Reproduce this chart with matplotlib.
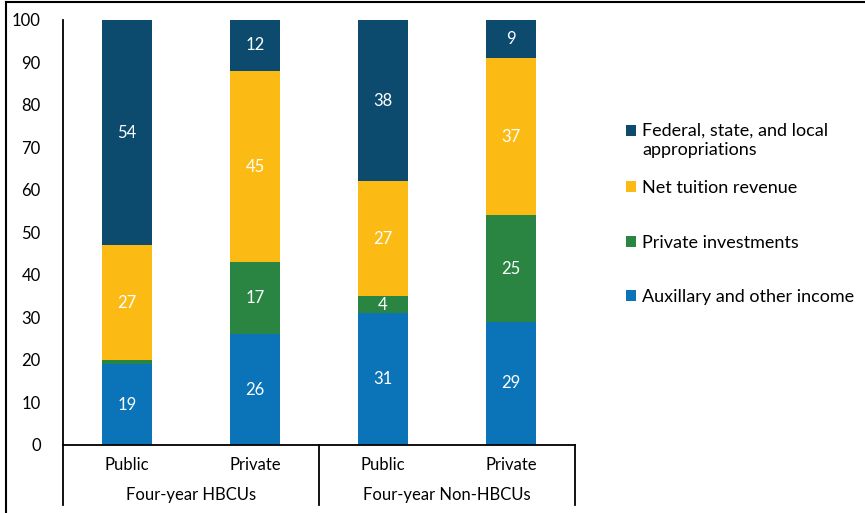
import matplotlib.pyplot as plt
import numpy as np
from matplotlib.lines import Line2D
from matplotlib.patches import Rectangle
from matplotlib.legend_handler import HandlerPatch

plt.rcParams['font.family'] = ['Lato', 'DejaVu Sans']

# data
types = ['Public', 'Private', 'Public', 'Private']
groups = ['Four-year HBCUs', 'Four-year Non-HBCUs']
series = ['Auxillary and other income', 'Private investments',
          'Net tuition revenue', 'Federal, state, and local\nappropriations']
auxiliary = [19, 26, 31, 29]
investments = [1, 17, 4, 25]
tuition = [27, 45, 27, 37]
appropriations = [54, 12, 38, 9]
colors = ['#0B73B7', '#2B8542', '#FCBB14', '#0C4A6E']

fig = plt.figure(figsize=(8.65, 5.13), dpi=100)
ax = fig.add_axes([0.0728, 0.1326, 0.5919, 0.8285])

x = np.arange(len(types))
bottom = np.zeros(len(types))
handles = []
for vals, name, c in zip([auxiliary, investments, tuition, appropriations], series, colors):
    bars = ax.bar(x, vals, 0.39, bottom=bottom, color=c, label=name, zorder=2)
    labels = [str(v) if v >= 3 else '' for v in vals]
    ax.bar_label(bars, labels=labels, label_type='center', color='white', fontsize=12)
    bottom += np.array(vals)
    handles.append(bars[0])

ax.set_xlim(-0.5, 3.5)
ax.set_ylim(0, 100)
ax.set_yticks(range(0, 101, 10))
ax.tick_params(axis='y', length=0, pad=16, labelsize=12)
ax.set_xticks([])
for s in ['top', 'right']:
    ax.spines[s].set_visible(False)
ax.spines['left'].set_linewidth(1.3)
ax.spines['bottom'].set_linewidth(1.3)

# two-level category axis
tr = ax.get_xaxis_transform()
ybot = -0.141
for xv in [-0.5, 1.5, 3.5]:
    ax.plot([xv, xv], [0, ybot], color='black', lw=1.3, transform=tr, clip_on=False)
for xi, t in zip(x, types):
    ax.text(xi, -0.047, t, transform=tr, ha='center', va='center', fontsize=12)
for gi, g in enumerate(groups):
    ax.text(gi * 2 + 0.5, -0.118, g, transform=tr, ha='center', va='center', fontsize=12)


def raised_square(legend, orig_handle, xdescent, ydescent, width, height, fontsize):
    # put the square next to the first line of a two-line label
    return Rectangle((-xdescent, -ydescent + 6.8), width, height)


# legend: two-line entry on its own, the rest below it
leg_kw = dict(frameon=False, fontsize=13, handlelength=0.55, handleheight=0.55,
              handletextpad=0.35, bbox_transform=fig.transFigure, loc='upper left')
leg1 = ax.legend([handles[3]], [series[3]], bbox_to_anchor=(0.705, 1 - 106 / 513),
                 handler_map={handles[3]: HandlerPatch(patch_func=raised_square)}, **leg_kw)
for t in leg1.get_texts():
    t.set_linespacing(1.25)
ax.add_artist(leg1)
ax.legend(handles[2::-1], series[2::-1], bbox_to_anchor=(0.705, 1 - 164 / 513),
          labelspacing=2.12, **leg_kw)

# outer frame
fig.add_artist(Line2D([6 / 865, 6 / 865], [0, 1 - 2 / 513], color='black', lw=1.5))
fig.add_artist(Line2D([6 / 865, 1], [1 - 2 / 513, 1 - 2 / 513], color='black', lw=1.5))

fig.savefig('out.png', dpi=100)
